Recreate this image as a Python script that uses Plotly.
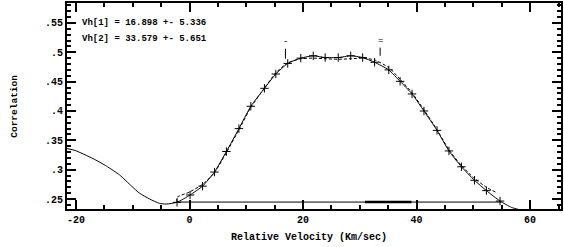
import plotly.graph_objects as go

# ---- data ----
# smooth correlation curve (left tail, data points, right tail)
tail_left_v = [-21.6, -20.2, -17.0, -14.6, -12.3, -10.2, -8.8, -7.0, -5.3, -4.1]
tail_left_c = [0.336, 0.333, 0.319, 0.306, 0.291, 0.272, 0.260, 0.250, 0.2427, 0.2415]

point_v = [-2.2, 0.1, 2.3, 4.4, 6.5, 8.7, 10.8, 13.2, 15.2, 17.3, 19.6, 21.8, 23.9,
           26.2, 28.4, 30.5, 32.6, 35.1, 37.1, 39.2, 41.3, 43.6, 45.7, 47.9, 50.2,
           52.3, 54.7]
point_c = [0.2445, 0.257, 0.272, 0.296, 0.331, 0.370, 0.408, 0.4386, 0.463, 0.481,
           0.490, 0.494, 0.491, 0.491, 0.494, 0.491, 0.483, 0.470, 0.4505, 0.429,
           0.400, 0.367, 0.332, 0.305, 0.282, 0.2644, 0.2466]

tail_right_v = [56.7, 57.9, 59.5]
tail_right_c = [0.2359, 0.2325, 0.229]

# double-gaussian fit (dashed)
fit_v = [-2.2, -2.2, 0.0, 2.3, 4.4, 6.5, 8.7, 10.8, 13.2, 15.2, 17.3, 19.6, 21.8,
         23.9, 26.2, 28.4, 30.5, 32.6, 35.1, 37.1, 39.2, 41.3, 43.6, 45.7, 47.9,
         50.2, 52.3, 54.1]
fit_c = [0.245, 0.253, 0.262, 0.275, 0.295, 0.329, 0.368, 0.406, 0.439, 0.465,
         0.482, 0.489, 0.490, 0.489, 0.488, 0.489, 0.490, 0.487, 0.474, 0.454,
         0.431, 0.402, 0.368, 0.334, 0.307, 0.285, 0.270, 0.261]

# baseline of the fit and highlighted range
base_v = [-2.2, 54.9]
base_c = [0.2449, 0.2449]
range_v = [30.9, 39.1]

# fitted velocities
vh_names = ["Vh[1]", "Vh[2]"]
vh = [16.898, 33.579]
vh_err = [5.336, 5.651]
vh_mark_lo = [0.489, 0.494]
vh_mark_hi = [0.506, 0.508]

xtick_vals = [-20, 0, 20, 40, 60]
xtick_text = ["-20", "0", "20", "40", "60"]
ytick_vals = [0.25, 0.30, 0.35, 0.40, 0.45, 0.50, 0.55]
ytick_text = [".25", ".3", ".35", ".4", ".45", ".5", ".55"]

FONT = "Liberation Mono"

curve_v = tail_left_v + point_v + tail_right_v
curve_c = tail_left_c + point_c + tail_right_c

fig = go.Figure()
fig.add_trace(go.Scatter(x=base_v, y=base_c, mode="lines",
                         line=dict(color="black", width=1)))
fig.add_trace(go.Scatter(x=range_v, y=[base_c[0]] * 2, mode="lines",
                         line=dict(color="black", width=2.5)))
fig.add_trace(go.Scatter(x=curve_v, y=curve_c, mode="lines",
                         line=dict(color="black", width=1, shape="spline", smoothing=0.5)))
fig.add_trace(go.Scatter(x=fit_v, y=fit_c, mode="lines",
                         line=dict(color="black", width=1, dash="3px,2px",
                                   shape="spline", smoothing=0.5)))
fig.add_trace(go.Scatter(x=point_v, y=point_c, mode="markers",
                         marker=dict(symbol="cross-thin", size=6,
                                     line=dict(color="black", width=1))))

for i, v in enumerate(vh):
    fig.add_trace(go.Scatter(x=[v, v], y=[vh_mark_lo[i], vh_mark_hi[i]], mode="lines",
                             line=dict(color="black", width=1)))
    fig.add_annotation(x=v, y=vh_mark_hi[i], xref="x", yref="y", text="-" if i == 0 else "=",
                       showarrow=False, yanchor="bottom", yshift=0,
                       font=dict(family=FONT, size=9, color="black"))
    fig.add_annotation(x=0.026, y=0.903 - i * 0.076, xref="paper", yref="paper",
                       xanchor="left", yanchor="middle", showarrow=False,
                       text=f"{vh_names[i]} = {v:.3f} +- {vh_err[i]:.3f}",
                       font=dict(family=FONT, size=9, color="black", weight="bold"))

fig.add_annotation(x=0.49, y=-0.14, xref="paper", yref="paper", yanchor="middle",
                   showarrow=False, text="Relative Velocity (Km/sec)",
                   font=dict(family=FONT, size=10, color="black", weight="bold"))
fig.add_annotation(x=-0.123, y=0.5, xref="paper", yref="paper", textangle=-90,
                   showarrow=False, text="Correlation",
                   font=dict(family=FONT, size=9.5, color="black", weight="bold"))

axis_common = dict(showgrid=False, zeroline=False, showline=True, linecolor="black",
                   linewidth=2, mirror="ticks", ticks="inside", tickcolor="black",
                   tickwidth=2, ticklen=9,
                   tickfont=dict(family=FONT, size=10, color="black", weight="bold"))

fig.update_xaxes(range=[-21.58, 65.44], tickvals=xtick_vals, ticktext=xtick_text,
                 minor=dict(dtick=5, tick0=0, ticks="inside", ticklen=4, tickwidth=2,
                            tickcolor="black"),
                 **axis_common)
fig.update_yaxes(range=[0.2331, 0.5839], tickvals=ytick_vals, ticktext=ytick_text,
                 minor=dict(dtick=0.01, tick0=0.25, ticks="inside", ticklen=4, tickwidth=2,
                            tickcolor="black"),
                 **axis_common)

fig.update_layout(width=564, height=247, showlegend=False,
                  margin=dict(l=67, r=1, t=2, b=38),
                  plot_bgcolor="white", paper_bgcolor="white")

fig.write_html("out.html", config={"displayModeBar": False},
               post_script="document.body.style.margin='0';document.body.style.overflow='hidden';")
